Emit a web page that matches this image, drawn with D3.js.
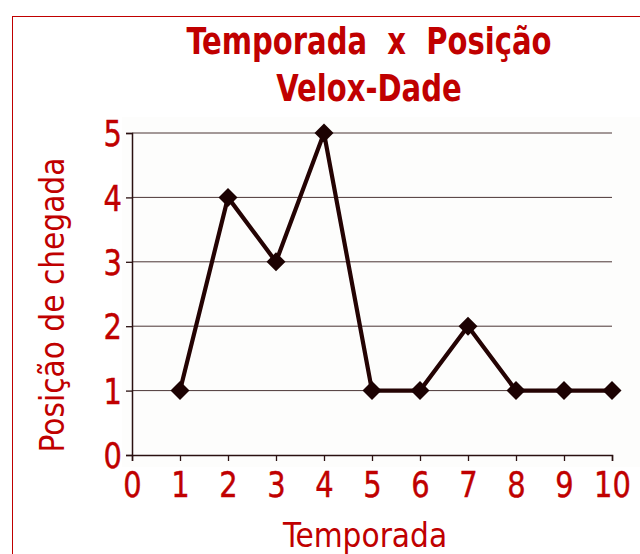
<!DOCTYPE html>
<html>
<head>
<meta charset="utf-8">
<script src="https://cdn.jsdelivr.net/npm/d3@7"></script>
<style>
	body { margin: 0; background: #fff; }
	text { font-family: "DejaVu Sans Condensed", "Liberation Sans Narrow", sans-serif; white-space: pre; }
</style>
</head>
<body>
<svg id="svg" width="640" height="554"></svg>
<script>
"use strict";

// data
const seasons = [1, 2, 3, 4, 5, 6, 7, 8, 9, 10];
const positions = [1, 4, 3, 5, 1, 1, 2, 1, 1, 1];
const xTicks = [0, 1, 2, 3, 4, 5, 6, 7, 8, 9, 10];
const yTicks = [0, 1, 2, 3, 4, 5];

const red = "#c00000";
const squeeze = 0.92; // narrow the glyphs a bit, the original font is condensed
const svg = d3.select("#svg");

// outer frame, runs off the right and bottom edge
svg.append("rect")
	.attr("x", 12.5)
	.attr("y", 16.5)
	.attr("width", 700)
	.attr("height", 700)
	.attr("fill", "#fff")
	.attr("stroke", red)
	.attr("stroke-width", 1);

const x = d3.scaleLinear().domain([0, 10]).range([132, 612]);
const y = d3.scaleLinear().domain([0, 5]).range([455, 133]);

// plot background
svg.append("rect")
	.attr("x", 122)
	.attr("y", 117)
	.attr("width", 518)
	.attr("height", 350)
	.attr("fill", "#fdfdfc");

// title
const title = svg.append("text")
	.attr("transform", `translate(369,0) scale(0.85,1)`)
	.attr("text-anchor", "middle")
	.attr("fill", red)
	.attr("font-weight", "bold")
	.attr("font-size", "38px");
title.append("tspan").attr("x", 0).attr("y", 54).text("Temporada  x  Posição");
title.append("tspan").attr("x", 0).attr("y", 101).text("Velox-Dade");

// gridlines
svg.append("g")
	.selectAll("line")
	.data(yTicks.filter((d) => d > 0))
	.enter()
	.append("line")
	.attr("x1", x(0))
	.attr("x2", x(10))
	.attr("y1", (d) => y(d))
	.attr("y2", (d) => y(d))
	.style("stroke", "#4a3535")
	.style("stroke-width", "1px");

// axes
const xAxis = svg.append("g")
	.attr("transform", `translate(0,${y(0)})`)
	.call(d3.axisBottom(x).tickValues(xTicks).tickFormat(d3.format("d")).tickSize(6).tickPadding(11));
const yAxis = svg.append("g")
	.attr("transform", `translate(${x(0)},0)`)
	.call(d3.axisLeft(y).tickValues(yTicks).tickFormat(d3.format("d")).tickSize(6).tickPadding(4));

[xAxis, yAxis].forEach((a) => {
	a.select(".domain").attr("stroke", "#2a1010").attr("stroke-width", 1.5);
	a.selectAll(".tick line").attr("stroke", "#2a1010").attr("stroke-width", 1.3);
	a.selectAll("text")
		.attr("fill", red)
		.attr("font-size", "35px")
		.attr("font-family", null)
		.attr("stroke", red)
		.attr("stroke-width", 0.4)
		.attr("transform", `scale(${squeeze},1)`);
});
xAxis.selectAll("text").attr("dy", "0.71em");
yAxis.selectAll("text").attr("dy", "0.36em").attr("x", -10 / squeeze);

// axis titles
svg.append("text")
	.attr("x", 365)
	.attr("y", 547)
	.attr("text-anchor", "middle")
	.attr("fill", red)
	.attr("font-size", "33px")
	.text("Temporada");
svg.append("text")
	.attr("transform", "translate(64,305) rotate(-90)")
	.attr("text-anchor", "middle")
	.attr("fill", red)
	.attr("font-size", "33px")
	.text("Posição de chegada");

// line
const points = seasons.map((s, i) => [s, positions[i]]);
svg.append("path")
	.datum(points)
	.attr("d", d3.line().x((d) => x(d[0])).y((d) => y(d[1])))
	.attr("fill", "none")
	.attr("stroke", "#240303")
	.attr("stroke-width", 4.2)
	.attr("stroke-linejoin", "miter");

// diamond markers
svg.append("g")
	.selectAll("path")
	.data(points)
	.enter()
	.append("path")
	.attr("transform", (d) => `translate(${x(d[0])},${y(d[1])})`)
	.attr("d", "M0,-9.5L9.5,0L0,9.5L-9.5,0Z")
	.attr("fill", "#1c0202");
</script>
</body>
</html>
